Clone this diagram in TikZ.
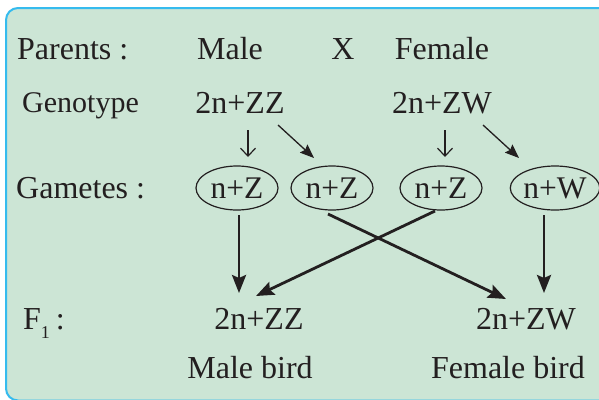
\documentclass[tikz,border=0pt]{standalone}
\usepackage{fontspec}
\setmainfont{Liberation Serif}
\usetikzlibrary{arrows.meta,shapes.geometric}
\definecolor{bgc}{HTML}{CCE5D5}
\definecolor{bordc}{HTML}{35BBEE}
\definecolor{ink}{HTML}{231F20}
\tikzset{
  lbl/.style={anchor=base west,inner sep=0pt,text=ink,font=\fontsize{32}{36}\selectfont},
  txt/.style={anchor=base,inner sep=0pt,text=ink,font=\fontsize{32}{36}\selectfont},
  gam/.style={ellipse,draw=ink,line width=1.2pt,minimum width=82pt,minimum height=44pt,inner sep=0pt,text=ink,font=\fontsize{31.5}{36}\selectfont},
  heavy/.style={draw=ink,line width=2.8pt,-{Stealth[length=18pt,width=14pt,inset=3pt]}},
  light/.style={draw=ink,line width=1.3pt,-{Stealth[length=14pt,width=11pt,inset=2pt]}},
  thin/.style={draw=ink,line width=1.2pt,-{Straight Barb[length=8pt,width=15pt]}}
}
\begin{document}
\begin{tikzpicture}[x=1pt,y=-1pt]
\useasboundingbox (0,0) rectangle (599,399);
\clip (0,0) rectangle (599,399);
\fill[white] (0,0) rectangle (599,399);
\draw[bordc,line width=2pt,fill=bgc,rounded corners=12pt] (6,8) rectangle (612,400.5);
% row labels
\node[lbl] (parents) at (17,59) {Parents :};
\node[lbl,font=\fontsize{30}{34}\selectfont] (genotype) at (22,112) {Genotype};
\node[lbl] (gametes) at (16,198) {Gametes :};
\node[lbl] (f1) at (23,329) {F\raisebox{-9pt}{\fontsize{18}{18}\selectfont 1}\hspace{6pt}:};
% parents
\node[txt] (male) at (230,59) {Male};
\node[txt] (cross) at (343,59) {X};
\node[txt] (female) at (442,59) {Female};
% genotypes
\node[txt] (gm) at (240,113) {2n+ZZ};
\node[txt] (gf) at (442,113) {2n+ZW};
% gametes
\node[gam] (g1) at (237,188) {n+Z};
\node[gam] (g2) at (332,188) {n+Z};
\node[gam] (g3) at (441,188) {n+Z};
\node[gam] (g4) at (555,188) {n+W};
% F1
\node[txt] (fm) at (259,329) {2n+ZZ};
\node[txt] (ff) at (526,329) {2n+ZW};
\node[txt] (mb) at (250,378) {Male bird};
\node[txt] (fb) at (508,378) {Female bird};
% genotype to gamete arrows
\coordinate (a1s) at (248,130); \coordinate (a1e) at (248,157);
\coordinate (a2s) at (278,125); \coordinate (a2e) at (314,158);
\coordinate (a3s) at (445,130); \coordinate (a3e) at (445,157);
\coordinate (a4s) at (483,125); \coordinate (a4e) at (519,158);
\draw[thin] (a1s) -- (a1e);
\draw[light] (a2s) -- (a2e);
\draw[thin] (a3s) -- (a3e);
\draw[light] (a4s) -- (a4e);
% gamete to F1 arrows
\coordinate (t1) at (239,293);
\coordinate (t2) at (256,296);
\coordinate (t3) at (506,299);
\coordinate (t4) at (544,293);
\coordinate (s1) at (239,215);
\coordinate (s2) at (328,214);
\coordinate (s3) at (435,211);
\coordinate (s4) at (544,215);
\draw[heavy] (s1) -- (t1);
\draw[heavy] (s3) -- (t2);
\draw[heavy] (s2) -- (t3);
\draw[heavy] (s4) -- (t4);
\end{tikzpicture}
\end{document}
